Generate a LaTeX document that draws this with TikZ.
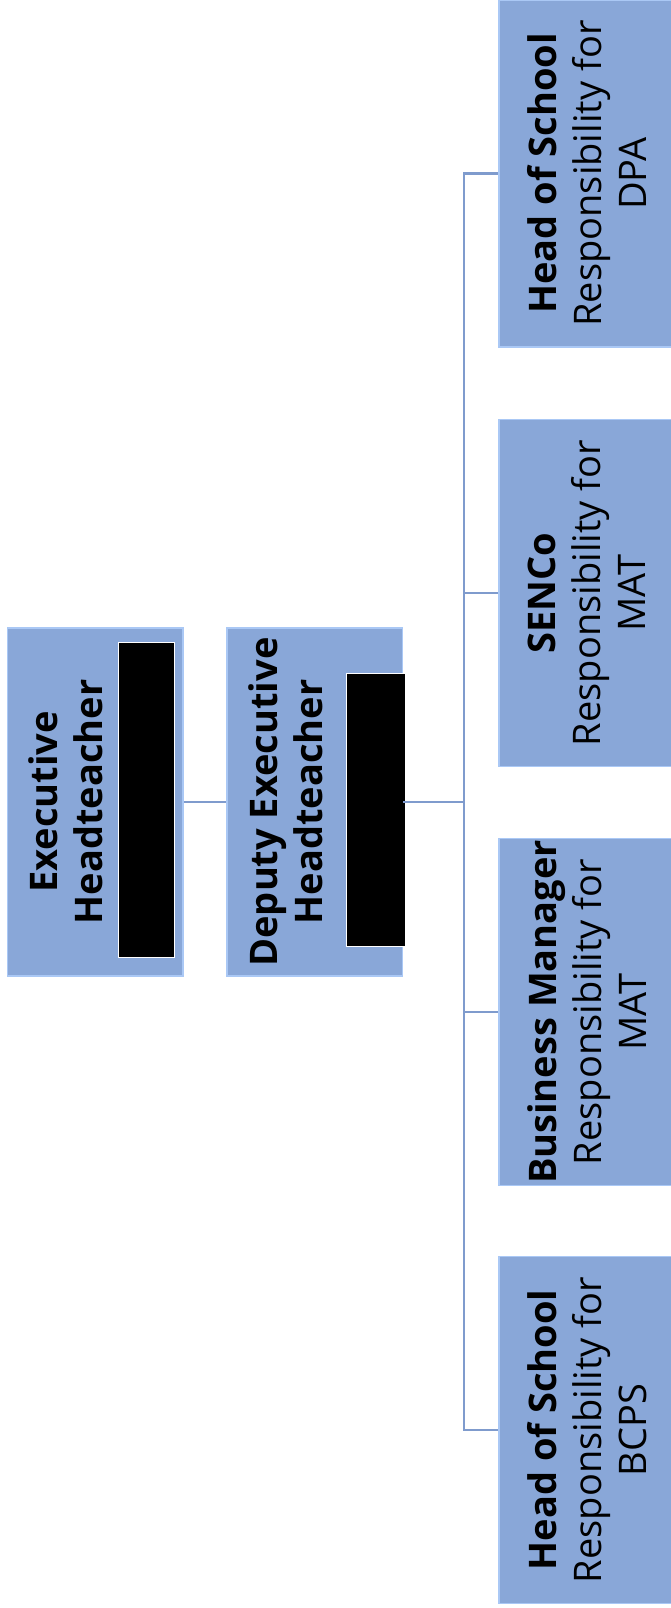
\documentclass[tikz,border=0pt]{standalone}
\usepackage{fontspec}
\setmainfont{Open Sans}
\definecolor{boxfill}{RGB}{137,167,216}
\definecolor{boxline}{RGB}{170,200,245}
\definecolor{linkcol}{RGB}{127,155,205}
\tikzset{
  rolebox/.style={rectangle, rotate=90, fill=boxfill, draw=boxline, line width=1.5pt,
    align=center, inner sep=0pt, text=black,
    font=\fontsize{38}{45}\selectfont},
  leftbox/.style={rolebox, minimum width=348pt, minimum height=175.5pt},
  rightbox/.style={rolebox, minimum width=347pt, minimum height=176pt},
  redact/.style={rectangle, fill=black, draw=white, line width=0.8pt, inner sep=0pt},
  link/.style={draw=linkcol, line width=2.5pt}
}
\begin{document}
\begin{tikzpicture}[x=1pt,y=-1pt]
\useasboundingbox (0,0) rectangle (671,1608);
\clip (0,0) rectangle (671,1608);
\fill[white] (0,0) rectangle (671,1608);
% left column
\node[leftbox] (exec) at (95.25,802) {\textbf{Executive}\\\textbf{Headteacher}\\\strut};
\node[leftbox] (dep) at (314.5,802) {\textbf{Deputy Executive}\\\textbf{Headteacher}\\\strut};
\node[redact, minimum width=56pt, minimum height=315pt] (exr) at (146,799.5) {};
\node[redact, minimum width=59pt, minimum height=273pt] (depr) at (375.5,809.5) {};
% right column
\node[rightbox] (dpa) at (587,173.5) {\textbf{Head of School}\\Responsibility for\\DPA};
\node[rightbox] (senco) at (587,593) {\textbf{SENCo}\\Responsibility for\\MAT};
\node[rightbox] (bm) at (587,1012) {\textbf{Business Manager}\\Responsibility for\\MAT};
\node[rightbox] (bcps) at (587,1430) {\textbf{Head of School}\\Responsibility for\\BCPS};
% connectors
\coordinate (trunk) at (464,802);
\draw[link] (exec.south) -- (dep.north);
\draw[link] (dep.south) -- (trunk);
\draw[link] (trunk) |- (dpa.north);
\draw[link] (trunk) |- (senco.north);
\draw[link] (trunk) |- (bm.north);
\draw[link] (trunk) |- (bcps.north);
\end{tikzpicture}
\end{document}
